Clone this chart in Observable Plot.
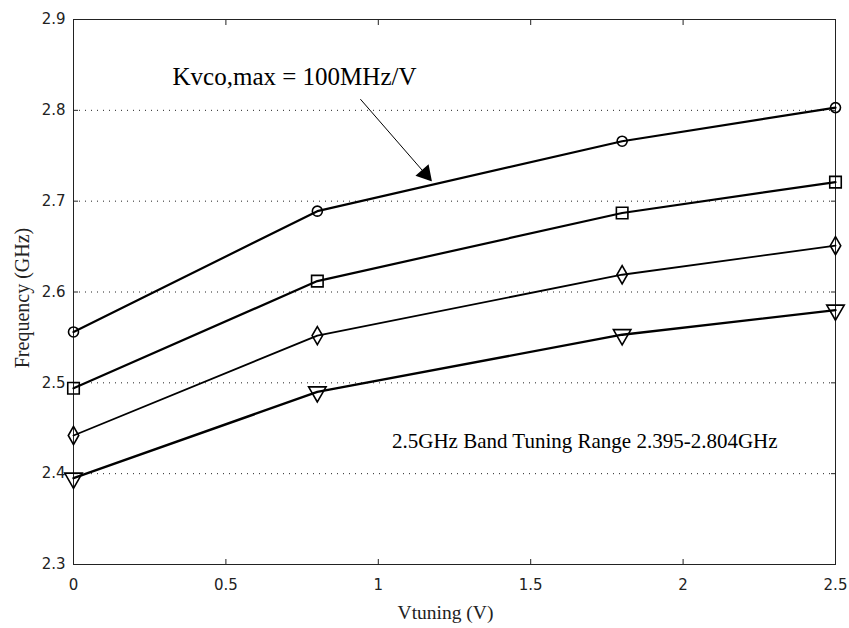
<!DOCTYPE html>
<html>
<head>
<meta charset="utf-8">
<script src="https://cdn.jsdelivr.net/npm/d3@7"></script>
<script src="https://cdn.jsdelivr.net/npm/@observablehq/plot@0.6"></script>
<style>
  html, body { margin: 0; padding: 0; background: #fff; }
</style>
</head>
<body>
<div id="chart"></div>
<script>
// Tuning voltage (V)
const vtuning = [0, 0.8, 1.8, 2.5];
// Frequency (GHz) for each sub-band curve
const fCircle   = [2.556, 2.689, 2.766, 2.803];
const fSquare   = [2.494, 2.612, 2.687, 2.721];
const fDiamond  = [2.442, 2.552, 2.619, 2.651];
const fTriangle = [2.395, 2.490, 2.553, 2.580];

const xTicks = [0, 0.5, 1, 1.5, 2, 2.5];
const yTicks = [2.3, 2.4, 2.5, 2.6, 2.7, 2.8, 2.9];
const gridY = [2.4, 2.5, 2.6, 2.7, 2.8];

const xLabel = "Vtuning (V)";
const yLabel = "Frequency (GHz)";
const noteKvco = "Kvco,max = 100MHz/V";
const noteRange = "2.5GHz Band Tuning Range 2.395-2.804GHz";

// annotation anchors in data units
const kvcoText = [{x: 0.325, y: 2.837, t: noteKvco}];
const kvcoArrow = [{x1: 0.942, y1: 2.812, x2: 1.165, y2: 2.726}];
const rangeText = [{x: 2.31, y: 2.4355, t: noteRange}];

const series = [
  {name: "circle", values: fCircle, symbol: "circle", r: 5, rotate: 0, sw: 2.2},
  {name: "square", values: fSquare, symbol: "square", r: 6.5, rotate: 0, sw: 2.2},
  {name: "diamond", values: fDiamond, symbol: "diamond", r: 5.5, rotate: 0, sw: 1.8},
  {name: "triangle", values: fTriangle, symbol: "triangle", r: 6.5, rotate: 180, sw: 2.4}
];
const rows = series.flatMap(s => vtuning.map((v, i) => ({series: s.name, x: v, y: s.values[i]})));

const layout = {
  width: 849,
  height: 628,
  marginLeft: 73,
  marginRight: 14,
  marginTop: 19,
  marginBottom: 64,
  x: {domain: [0, 2.5]},
  y: {domain: [2.3, 2.9]},
  style: {background: "#fff", color: "#222", fontFamily: "DejaVu Sans", fontSize: "15px"}
};

function build(headRotate, hdx, hdy) {
  const marks = [
    Plot.ruleY(gridY, {stroke: "#222", strokeWidth: 1, strokeDasharray: "1,5"}),
    Plot.frame({stroke: "#222"}),
    Plot.axisX({ticks: xTicks, tickSize: -5, tickPadding: 20, tickFormat: d => String(d), fontFamily: "DejaVu Sans", fontSize: 15}),
    Plot.axisX({ticks: xTicks, anchor: "top", tickSize: -5, tickFormat: () => ""}),
    Plot.axisY({ticks: yTicks, tickSize: -5, tickPadding: 13, tickFormat: d => d.toFixed(1), fontFamily: "DejaVu Sans", fontSize: 15}),
    Plot.axisY({ticks: yTicks, anchor: "right", tickSize: -5, tickFormat: () => ""}),
  ];
  for (const s of series) {
    const d = rows.filter(r => r.series === s.name);
    marks.push(Plot.line(d, {x: "x", y: "y", stroke: "#000", strokeWidth: s.sw}));
    marks.push(Plot.dot(d, {x: "x", y: "y", symbol: s.symbol, r: s.r, rotate: s.rotate, stroke: "#000", strokeWidth: 1.6, fill: "none"}));
  }
  marks.push(
    Plot.arrow(kvcoArrow, {x1: "x1", y1: "y1", x2: "x2", y2: "y2", stroke: "#000", strokeWidth: 1, headLength: 0}),
    Plot.dot(kvcoArrow, {x: "x2", y: "y2", symbol: "triangle", r: 5.5, rotate: headRotate, dx: hdx, dy: hdy, fill: "#000", stroke: "#000"}),
    Plot.text(kvcoText, {x: "x", y: "y", text: "t", textAnchor: "start", fontFamily: "Liberation Serif", fontSize: 25, fill: "#000"}),
    Plot.text(rangeText, {x: "x", y: "y", text: "t", textAnchor: "end", fontFamily: "Liberation Serif", fontSize: 21, fill: "#000"}),
    Plot.text([xLabel], {frameAnchor: "bottom", lineAnchor: "middle", dy: 48, dx: -9, fontFamily: "Liberation Serif", fontSize: 19.5, fill: "#222"}),
    Plot.text([yLabel], {frameAnchor: "left", textAnchor: "middle", lineAnchor: "middle", dx: -51, dy: 6, rotate: -90, fontFamily: "Liberation Serif", fontSize: 20, fill: "#222"})
  );
  return Plot.plot({...layout, marks});
}

// First pass to read the scales, then orient the filled arrowhead along the arrow.
const probe = build(0, 0, 0);
const sx = probe.scale("x"), sy = probe.scale("y");
const a = kvcoArrow[0];
const px1 = sx.apply(a.x1), py1 = sy.apply(a.y1), px2 = sx.apply(a.x2), py2 = sy.apply(a.y2);
const len = Math.hypot(px2 - px1, py2 - py1);
const ux = (px2 - px1) / len, uy = (py2 - py1) / len;
const rot = Math.atan2(ux, -uy) * 180 / Math.PI;
const chart = build(rot, -ux * 5, -uy * 5);
document.getElementById("chart").appendChild(chart);
</script>
</body>
</html>
